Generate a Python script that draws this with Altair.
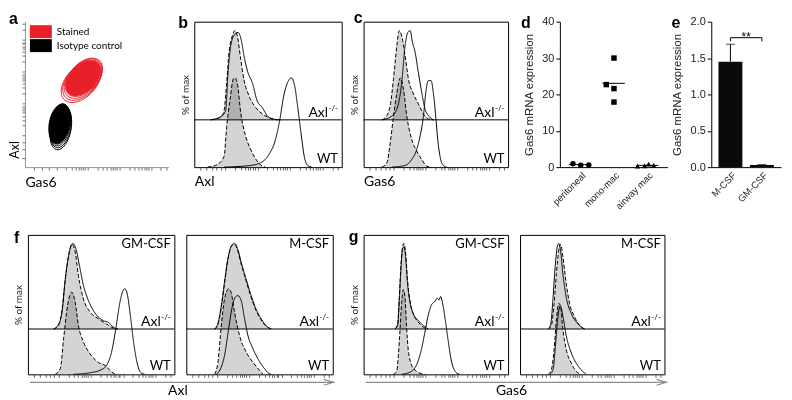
import json
import altair as alt
import pandas as pd

LATO = "Lato"
ARIAL = "Liberation Sans"
RED = "#e8202a"
GREY_FILL = "#d4d4d4"
AXL_OFFSET = 53
Y_MAX = 163

# ---------------- panel a : contour levels (Gas6 vs Axl, log units 0-100) ----------------
A_LEGEND = ["Stained", "Isotype control"]
A_GROUP = ["Stained"] * 6 + ["Isotype control"] * 6
A_LEVEL = [1, 2, 3, 4, 5, 6, 1, 2, 3, 4, 5, 6]
A_GAS6 = [39.0, 39.8, 40.5, 41.0, 41.4, 40.7, 25.0, 25.0, 24.7, 24.5, 24.3, 24.1]
A_AXL = [58.2, 59.4, 60.5, 61.5, 62.3, 61.2, 26.5, 27.6, 28.6, 29.5, 30.2, 29.8]

# axis tick positions (log-like)
DECADES = [21, 43, 65, 87]
LOG_MINOR = [6.6, 10.5, 13.2, 15.4, 17.1, 18.6, 19.9]
LINEAR_TICKS = [4, 8, 12, 15, 18]

# ---------------- histograms : (channel, % of max) ----------------
B_AXL_ISO = [(11.2, 0), (18.0, 3), (20.2, 10.4), (22.0, 42), (23.6, 76), (25.8, 94), (27.6, 100), (29.2, 94), (31.5, 68), (33.7, 45), (37.1, 27), (41.6, 14), (46.1, 6.7), (51.7, 1.9), (56.2, 0)]
B_AXL_STN = [(11.2, 0), (19.1, 4.9), (21.3, 10.4), (22.9, 53), (25.2, 87), (27.6, 96), (29.7, 98), (31.9, 89), (33.7, 72), (36.4, 53), (39.3, 42), (42.7, 21), (46.1, 14), (49.4, 4.9), (52.8, 1.1), (58.4, 0)]
B_WT_ISO = [(9.0, 0), (15.7, 3), (20.2, 12), (22.0, 46), (24.3, 76), (26.5, 99), (27.6, 100), (29.2, 94), (31.5, 61), (34.8, 35), (38.2, 20), (42.7, 6.7), (46.1, 1.1), (48.3, 0)]
B_WT_STN = [(20.2, 0), (38.2, 1.9), (44.9, 4.9), (50.6, 14), (55.1, 31), (58.0, 53), (60.7, 80), (63.6, 96), (65.8, 100), (68.1, 91), (70.1, 68), (72.4, 38), (74.6, 12), (76.9, 1.9), (79.8, 0)]

C_AXL_ISO = [(12.6, 0), (16.1, 4.9), (18.4, 16), (20.7, 46), (23.0, 83), (24.6, 100), (26.4, 94), (28.7, 72), (31.0, 46), (34.5, 29), (37.9, 18), (41.4, 6.7), (44.8, 1.1), (48.3, 0)]
C_AXL_STN = [(12.6, 0), (18.4, 3), (23.0, 12), (26.4, 42), (28.7, 83), (30.6, 98), (32.2, 100), (33.8, 87), (35.6, 76), (37.9, 53), (40.2, 31), (42.5, 12), (44.8, 4.9), (48.3, 0)]
C_WT_ISO = [(12.6, 0), (16.1, 4.9), (18.4, 27), (20.7, 57), (23.0, 83), (25.3, 100), (27.6, 87), (29.9, 57), (33.3, 31), (36.8, 18), (40.2, 8.6), (43.7, 1.1), (46.0, 0)]
C_WT_STN = [(19.5, 0), (28.7, 1.9), (33.3, 8.6), (36.8, 20), (39.1, 35), (41.4, 57), (43.0, 83), (44.8, 97), (46.7, 97), (48.3, 83), (49.9, 57), (51.3, 31), (52.9, 12), (55.2, 1.9), (57.5, 0)]

F1_AXL_ISO = [(17.6, 0), (21.0, 3.9), (23.3, 23), (25.5, 58), (27.8, 86), (30.0, 99), (32.3, 90), (34.5, 62), (37.9, 35), (42.4, 20), (48.1, 12), (53.7, 5.8), (58.2, 1.2), (61.6, 0)]
F1_AXL_STN = [(17.6, 0), (21.0, 5.8), (23.3, 20), (25.5, 58), (27.8, 86), (30.7, 100), (32.9, 93), (35.2, 74), (37.9, 51), (42.4, 29), (47.0, 16), (51.5, 9.7), (54.9, 7.8), (57.1, 3.9), (60.5, 0)]
F1_WT_ISO = [(18.7, 0), (22.1, 6.6), (24.4, 42), (27.1, 81), (30.0, 96), (32.3, 84), (34.5, 57), (37.9, 38), (42.4, 24), (48.1, 14), (52.6, 10.5), (56.0, 4.7), (59.4, 0)]
F1_WT_STN = [(31.2, 0), (42.4, 1.9), (49.2, 4.7), (53.7, 10.5), (57.1, 26), (60.0, 53), (62.8, 84), (65.0, 98), (66.1, 100), (67.7, 95), (70.0, 68), (72.2, 37), (74.5, 14), (76.7, 2.7), (79.7, 0)]

F2_AXL_ISO = [(19.3, 0), (21.4, 4.5), (24.1, 28), (26.3, 56), (28.6, 83), (30.9, 97), (32.8, 99), (35.0, 92), (37.3, 77), (40.7, 57), (44.1, 38), (47.5, 22), (50.9, 11), (54.3, 3.5), (57.8, 0)]
F2_AXL_STN = [(19.3, 0), (21.1, 3.9), (23.9, 27), (26.1, 55), (28.4, 82), (30.7, 97), (33.0, 100), (35.2, 93), (37.5, 78), (40.9, 58), (44.3, 39), (47.7, 23), (51.1, 12), (54.5, 3.9), (58.0, 0)]
F2_WT_ISO = [(19.3, 0), (21.6, 14), (23.9, 57), (26.1, 88), (28.9, 100), (30.7, 95), (33.0, 72), (36.4, 45), (40.9, 26), (45.5, 14), (50.0, 4.7), (52.3, 0)]
F2_WT_STN = [(20.5, 0), (23.4, 6.6), (26.1, 22), (28.9, 53), (31.1, 77), (33.4, 90), (35.2, 92), (37.5, 86), (39.8, 65), (42.0, 46), (45.5, 30), (50.0, 15), (53.4, 6.6), (55.7, 1.9), (58.0, 0)]

G1_AXL_ISO = [(21.7, 0), (23.6, 6.2), (24.7, 37), (25.9, 76), (27.0, 96), (27.9, 100), (29.1, 88), (30.4, 57), (32.0, 34), (34.3, 18), (37.8, 8.2), (41.2, 2.3), (44.6, 0)]
G1_AXL_STN = [(21.7, 0), (23.6, 4.3), (24.7, 34), (25.9, 72), (27.0, 94), (27.9, 96), (29.1, 84), (30.4, 53), (32.0, 32), (34.3, 18), (37.8, 10), (41.2, 4.3), (44.6, 0)]
G1_WT_ISO = [(20.6, 0), (22.9, 3.5), (24.0, 21), (25.2, 52), (26.3, 83), (27.5, 99), (28.6, 91), (29.7, 56), (30.9, 29), (33.2, 11), (36.6, 3.5), (40.0, 0.8), (42.3, 0)]
G1_WT_STN = [(26.3, 0), (33.2, 3.5), (36.6, 11), (40.0, 29), (42.3, 48), (44.6, 68), (46.9, 81), (49.2, 85), (51.0, 89), (52.2, 87), (53.3, 91), (54.9, 81), (56.5, 64), (58.4, 41), (60.6, 17), (63.4, 3.5), (66.4, 0)]

G2_AXL_ISO = [(19.5, 0), (21.7, 4.3), (23.6, 30), (25.2, 65), (26.8, 92), (28.1, 99), (29.7, 84), (32.0, 53), (34.3, 30), (37.8, 14), (41.2, 4.3), (44.6, 0)]
G2_AXL_STN = [(19.5, 0), (21.3, 6.2), (22.9, 37), (24.5, 76), (25.9, 97), (26.8, 100), (28.1, 91), (29.7, 64), (32.0, 37), (35.5, 18), (40.0, 6.2), (44.6, 0)]
G2_WT_ISO = [(19.5, 0), (21.7, 5.4), (23.6, 29), (25.2, 64), (26.8, 83), (28.1, 79), (29.7, 52), (32.0, 29), (35.5, 13), (38.9, 3.5), (42.3, 0)]
G2_WT_STN = [(20.6, 0), (22.9, 5.4), (24.5, 33), (26.3, 68), (27.9, 80), (29.7, 68), (32.0, 45), (35.5, 25), (38.9, 13), (42.3, 5.4), (45.8, 0)]

# ---------------- panel d ----------------
D_GROUPS = ["peritoneal", "mono-mac", "airway mac"]
D_PERI_POS = [-0.21, 0.02, 0.26]
D_PERI_VAL = [0.95, 0.5, 0.6]
D_MONO_POS = [1.01, 0.78, 1.01, 1.01]
D_MONO_VAL = [30.0, 22.7, 21.6, 17.9]
D_AIR_POS = [1.71, 1.92, 2.04, 2.19]
D_AIR_VAL = [0.3, 0.35, 0.8, 0.5]

# ---------------- panel e ----------------
E_GROUPS = ["M-CSF", "GM-CSF"]
E_MEAN = [1.45, 0.03]
E_SEM = [0.24, 0.005]
E_BRACKET_TOP = 1.78
E_BRACKET_DROP = 1.73
E_SIG = "**"


# ======================================================================
def log_ticks(decades, minor, linear):
    vals = list(linear) + list(decades)
    for d in decades:
        for m in minor:
            if d + m < 100:
                vals.append(round(d + m, 2))
    return sorted(vals)


HIST_TICKS = log_ticks(DECADES, LOG_MINOR, LINEAR_TICKS)
A_TICKS = log_ticks([22, 44, 66, 88], LOG_MINOR, [6, 12, 17])


def ellipse_path(rx, ry):
    k = 0.5523
    return (f"M{rx},0C{rx},{k*ry:.3f},{k*rx:.3f},{ry},0,{ry}"
            f"C{-k*rx:.3f},{ry},{-rx},{k*ry:.3f},{-rx},0"
            f"C{-rx},{-k*ry:.3f},{-k*rx:.3f},{-ry},0,{-ry}"
            f"C{k*rx:.3f},{-ry},{rx},{-k*ry:.3f},{rx},0Z")


RECT_PATH = "M-1.57,-0.93L1.57,-0.93L1.57,0.93L-1.57,0.93Z"
ARROW_PATH = "M-1,-0.6L1,0L-1,0.6"


def letter_title(letter, dx, dy):
    return alt.TitleParams(letter, anchor="start", frame="group", dx=dx, dy=dy, offset=0,
                           font=ARIAL, fontSize=16, fontWeight="bold", baseline="alphabetic",
                           color="black")


def spacer(w, h):
    return alt.Chart(pd.DataFrame({"v": [0]})).mark_point(opacity=0).encode(
        x=alt.X("v:Q", axis=None), y=alt.Y("v:Q", axis=None)
    ).properties(width=w, height=h, view=alt.ViewBackground(stroke="transparent"))


# ---------------- panel a ----------------
df_a = pd.DataFrame({"group": A_GROUP, "level": A_LEVEL, "gas6": A_GAS6, "axl": A_AXL})
a_xscale = alt.Scale(domain=[0, 100], nice=False)
a_yscale = alt.Scale(domain=[0, 100], nice=False)
a_color_scale = alt.Scale(domain=A_LEGEND, range=[RED, "black"])
a_size = alt.Size("level:O", scale=alt.Scale(domain=[1, 2, 3, 4, 5, 6],
                  range=[2304, 1849, 1444, 1089, 784, 1225]), legend=None)
a_axis_common = dict(values=A_TICKS, labels=False, tickSize=3, tickColor="#555", tickWidth=0.8,
                     domainColor="#777", domainWidth=0.8, grid=False, titleFont=LATO,
                     titleFontWeight="normal", titleColor="black")
A_XAXIS = alt.Axis(title="Gas6", titleAnchor="start", titlePadding=5, titleFontSize=14, **a_axis_common)
A_YAXIS = alt.Axis(title="Axl", titleAnchor="start", titlePadding=0, titleFontSize=12.5, titleY=137,
                   **a_axis_common)
A_LEGEND_DEF = alt.Legend(title=None, orient="none", legendX=9, legendY=3,
                          symbolType=RECT_PATH, symbolSize=196, symbolStrokeWidth=0,
                          labelFont=LATO, labelFontSize=10, labelColor="black",
                          labelOffset=9, rowPadding=0, padding=0)


def a_layer(group, path, angle, core, first):
    sub = alt.Chart(df_a).transform_filter(
        f"datum.group == '{group}' && datum.level {'==' if core else '<'} 6")
    xenc = alt.X("gas6:Q", scale=a_xscale, axis=A_XAXIS)
    yenc = alt.Y("axl:Q", scale=a_yscale, axis=A_YAXIS)
    if first:
        cenc = alt.Color("group:N", scale=a_color_scale, legend=A_LEGEND_DEF)
    else:
        cenc = alt.Color("group:N", scale=a_color_scale, legend=None)
    if core:
        mark = sub.mark_point(shape=path, angle=angle, filled=True, opacity=1)
    else:
        mark = sub.mark_point(shape=path, angle=angle, filled=False, strokeWidth=0.9, opacity=1)
    return mark.encode(x=xenc, y=yenc, color=cenc, size=a_size)


panel_a = alt.layer(
    a_layer("Stained", ellipse_path(1, 0.62), 314, True, True),
    a_layer("Isotype control", ellipse_path(0.95, 0.5), 281, True, False),
    a_layer("Stained", ellipse_path(1, 0.62), 314, False, False),
    a_layer("Isotype control", ellipse_path(0.9, 0.43), 281, False, False),
).properties(width=144, height=146, title=letter_title("a", -16, 18))


# ---------------- histogram panels ----------------
def curve_frame(curves):
    rows = []
    for (lane, kind), pts in curves.items():
        for x, p in pts:
            rows.append({"lane": lane, "kind": kind, "curve": f"{lane}-{kind}", "x": x, "pct": p})
    return pd.DataFrame(rows)


def hist_panel(curves, width, height, title, xtitle=None, xtitle_opts=None, ytitle=True,
               condition=None, arrow_len=None):
    df = curve_frame(curves)
    xs = alt.Scale(domain=[0, 100], nice=False)
    ys = alt.Scale(domain=[0, Y_MAX], nice=False)
    base = alt.Chart(df).transform_calculate(
        base=f"datum.lane == 'Axl' ? {AXL_OFFSET} : 0"
    ).transform_calculate(y="datum.pct + datum.base")

    xa = dict(values=HIST_TICKS, labels=False, tickSize=3, tickColor="#444", tickWidth=0.8,
              domain=False, grid=False, titleFont=LATO, titleFontSize=14,
              titleFontWeight="normal", titleColor="black")
    if xtitle is None:
        xa["title"] = None
    else:
        xa["title"] = xtitle
        xa.update(xtitle_opts)
    xaxis = alt.Axis(**xa)
    if ytitle:
        yaxis = alt.Axis(labels=False, ticks=False, domain=False, grid=False, title="% of max",
                         titleFont=LATO, titleFontSize=10, titleFontWeight="normal",
                         titleColor="#222", titlePadding=4)
    else:
        yaxis = None

    def X(field):
        return alt.X(field, scale=xs, axis=xaxis)

    def Y(field):
        return alt.Y(field, scale=ys, axis=yaxis)

    rule = alt.Chart(pd.DataFrame({"x": [0, 100], "y": [AXL_OFFSET, AXL_OFFSET]})).mark_line(
        color="black", strokeWidth=1).encode(x=X("x:Q"), y=Y("y:Q"))
    areas = base.transform_filter("datum.kind == 'iso'").mark_area(
        color=GREY_FILL, blend="multiply", interpolate="monotone", opacity=1
    ).encode(x=X("x:Q"), y=Y("y:Q"), y2="base:Q", detail="lane:N")
    lines = base.mark_line(color="black", strokeWidth=1, interpolate="monotone").encode(
        x=X("x:Q"), y=Y("y:Q"), detail="curve:N",
        strokeDash=alt.StrokeDash("kind:N", scale=alt.Scale(domain=["iso", "stn"], range=[[4, 2], [1, 0]]),
                                  legend=None))

    def label(txt, tx, ty, size, dy, baseline="alphabetic", dx=0):
        return alt.Chart(pd.DataFrame({"x": [tx], "y": [ty]})).mark_text(
            text=txt, font=LATO, fontSize=size, align="right", baseline=baseline, dy=dy, dx=dx,
            color="black").encode(x=X("x:Q"), y=Y("y:Q"))

    texts = [
        label("Axl", 97.5, AXL_OFFSET, 14, -3, dx=-10),
        label("-/-", 97.5, AXL_OFFSET, 8, -9),
        label("WT", 97.5, 0, 13, -4),
    ]
    if condition:
        texts.append(label(condition, 97.5, Y_MAX, 13, 3, baseline="top"))
    extra = []
    if arrow_len:
        adf = pd.DataFrame({"k": [0]})
        extra.append(alt.Chart(adf).mark_rule(color="#8c8c8c", strokeWidth=1.2).encode(
            x=alt.value(2), x2=alt.value(arrow_len), y=alt.value(height + 8)))
        extra.append(alt.Chart(adf).mark_point(shape=ARROW_PATH, filled=False, size=100,
                                               color="#8c8c8c", strokeWidth=1.2, opacity=1).encode(
            x=alt.value(arrow_len - 5), y=alt.value(height + 8)))
    return alt.layer(rule, areas, lines, *texts, *extra).properties(
        width=width, height=height, title=title,
        view=alt.ViewBackground(stroke="black", strokeWidth=1))


def curves_of(ai, ast, wi, ws):
    return {("Axl", "iso"): ai, ("Axl", "stn"): ast, ("WT", "iso"): wi, ("WT", "stn"): ws}


start_title = dict(titleAnchor="start", titlePadding=4)
panel_b = hist_panel(curves_of(B_AXL_ISO, B_AXL_STN, B_WT_ISO, B_WT_STN), 148, 146,
                     letter_title("b", -16, 22), xtitle="Axl", xtitle_opts=start_title)
panel_c = hist_panel(curves_of(C_AXL_ISO, C_AXL_STN, C_WT_ISO, C_WT_STN), 145, 146,
                     letter_title("c", -10, 17), xtitle="Gas6", xtitle_opts=start_title)
panel_f1 = hist_panel(curves_of(F1_AXL_ISO, F1_AXL_STN, F1_WT_ISO, F1_WT_STN), 147, 140,
                      letter_title("f", -14, 24), xtitle="Axl",
                      xtitle_opts=dict(titleX=150, titlePadding=6), condition="GM-CSF", arrow_len=307)
panel_f2 = hist_panel(curves_of(F2_AXL_ISO, F2_AXL_STN, F2_WT_ISO, F2_WT_STN), 147, 140,
                      "", ytitle=False, condition="M-CSF")
panel_g1 = hist_panel(curves_of(G1_AXL_ISO, G1_AXL_STN, G1_WT_ISO, G1_WT_STN), 145, 140,
                      letter_title("g", -15, 23), xtitle="Gas6",
                      xtitle_opts=dict(titleX=148, titlePadding=6), condition="GM-CSF", arrow_len=304)
panel_g2 = hist_panel(curves_of(G2_AXL_ISO, G2_AXL_STN, G2_WT_ISO, G2_WT_STN), 145, 140,
                      "", ytitle=False, condition="M-CSF")

# ---------------- panel d ----------------
d_rows = []
for gi, (g, poss, vals) in enumerate(zip(D_GROUPS, [D_PERI_POS, D_MONO_POS, D_AIR_POS],
                                         [D_PERI_VAL, D_MONO_VAL, D_AIR_VAL])):
    for p, v in zip(poss, vals):
        d_rows.append({"group": g, "gi": gi, "pos": p, "val": v})
df_d = pd.DataFrame(d_rows)
d_xs = alt.Scale(domain=[-0.6, 2.6], nice=False)
d_ys = alt.Scale(domain=[0, 40], nice=False)
num_axis = dict(tickSize=4, tickColor="black", tickWidth=1, domainColor="black", domainWidth=1,
                labelFont=ARIAL, labelFontSize=11, labelColor="#222", labelPadding=2, grid=False,
                titleFont=ARIAL, titleFontSize=11.5, titleFontWeight="normal", titleColor="#222")
cat_axis = dict(labelAngle=-45, ticks=False, grid=False, title=None, domainColor="black",
                domainWidth=1, labelFont=ARIAL, labelFontSize=9.5, labelColor="#222", labelPadding=3,
                labelOverlap=False)
D_XAXIS = alt.Axis(values=[0, 1, 2], labelExpr=json.dumps(D_GROUPS) + "[datum.value]", **cat_axis)
D_YAXIS = alt.Axis(values=[0, 10, 20, 30, 40], title="Gas6  mRNA expression", titlePadding=7, **num_axis)

d_points = alt.Chart(df_d).mark_point(filled=True, size=30, opacity=1, color="black").encode(
    x=alt.X("pos:Q", scale=d_xs, axis=D_XAXIS),
    y=alt.Y("val:Q", scale=d_ys, axis=D_YAXIS),
    shape=alt.Shape("group:N", scale=alt.Scale(domain=D_GROUPS,
                    range=["circle", "square", "triangle-up"]), legend=None))
d_means = alt.Chart(df_d).transform_aggregate(
    m="mean(val)", groupby=["group", "gi"]
).transform_calculate(x1="datum.gi - 0.33", x2="datum.gi + 0.33").mark_rule(
    color="black", strokeWidth=1).encode(
    x=alt.X("x1:Q", scale=d_xs, axis=D_XAXIS), x2="x2:Q",
    y=alt.Y("m:Q", scale=d_ys, axis=D_YAXIS))
panel_d = alt.layer(d_points, d_means).properties(width=108, height=146,
                                                  title=letter_title("d", -39, 28))

# ---------------- panel e ----------------
df_e = pd.DataFrame({"group": E_GROUPS, "pos": list(range(len(E_GROUPS))), "mean": E_MEAN, "sem": E_SEM})
e_xs = alt.Scale(domain=[-0.45, 1.45], nice=False)
e_ys = alt.Scale(domain=[0, 2], nice=False)
E_XAXIS = alt.Axis(values=[0, 1], labelExpr=json.dumps(E_GROUPS) + "[datum.value]", **cat_axis)
E_YAXIS = alt.Axis(values=[0, 0.5, 1, 1.5, 2], format=".1f", title="Gas6 mRNA expression",
                   titlePadding=8, **num_axis)


def EX(f):
    return alt.X(f, scale=e_xs, axis=E_XAXIS)


def EY(f):
    return alt.Y(f, scale=e_ys, axis=E_YAXIS)


e_bars = alt.Chart(df_e).mark_bar(size=24, color="#0a0a0a").encode(x=EX("pos:Q"), y=EY("mean:Q"))
e_err = alt.Chart(df_e).transform_calculate(hi="datum.mean + datum.sem").mark_rule(
    color="black", strokeWidth=1).encode(x=EX("pos:Q"), y=EY("mean:Q"), y2="hi:Q")
e_cap = alt.Chart(df_e).transform_calculate(hi="datum.mean + datum.sem").mark_tick(
    orient="horizontal", size=9, thickness=1, color="black").encode(x=EX("pos:Q"), y=EY("hi:Q"))
df_br = pd.DataFrame({"pos": [0, 1], "top": [E_BRACKET_TOP] * 2, "drop": [E_BRACKET_DROP] * 2})
e_br_h = alt.Chart(df_br).mark_line(color="black", strokeWidth=1).encode(x=EX("pos:Q"), y=EY("top:Q"))
e_br_v = alt.Chart(df_br).mark_rule(color="black", strokeWidth=1).encode(
    x=EX("pos:Q"), y=EY("top:Q"), y2="drop:Q")
e_star = alt.Chart(pd.DataFrame({"pos": [0.5], "top": [E_BRACKET_TOP]})).mark_text(
    text=E_SIG, font=ARIAL, fontSize=12, baseline="alphabetic", dy=3, color="black").encode(
    x=EX("pos:Q"), y=EY("top:Q"))
panel_e = alt.layer(e_bars, e_err, e_cap, e_br_h, e_br_v, e_star).properties(
    width=70, height=146, title=letter_title("e", -40, 28))

# ---------------- layout ----------------
row1 = alt.hconcat(panel_a, spacer(26, 146), panel_b, spacer(22, 146), panel_c, spacer(52, 146),
                   panel_d, spacer(44, 146), panel_e, spacing=0, bounds="flush")
row2 = alt.hconcat(spacer(3, 140), panel_f1, spacer(12, 140), panel_f2, spacer(31, 140), panel_g1,
                   spacer(12, 140), panel_g2, spacing=0, bounds="flush")

chart = alt.vconcat(row1, row2, spacing=214, bounds="flush").properties(
    padding={"left": 0, "top": 0, "right": 2, "bottom": 0}).configure_view(stroke="transparent")

chart.save("out.html", embed_options={"renderer": "svg", "actions": False})
